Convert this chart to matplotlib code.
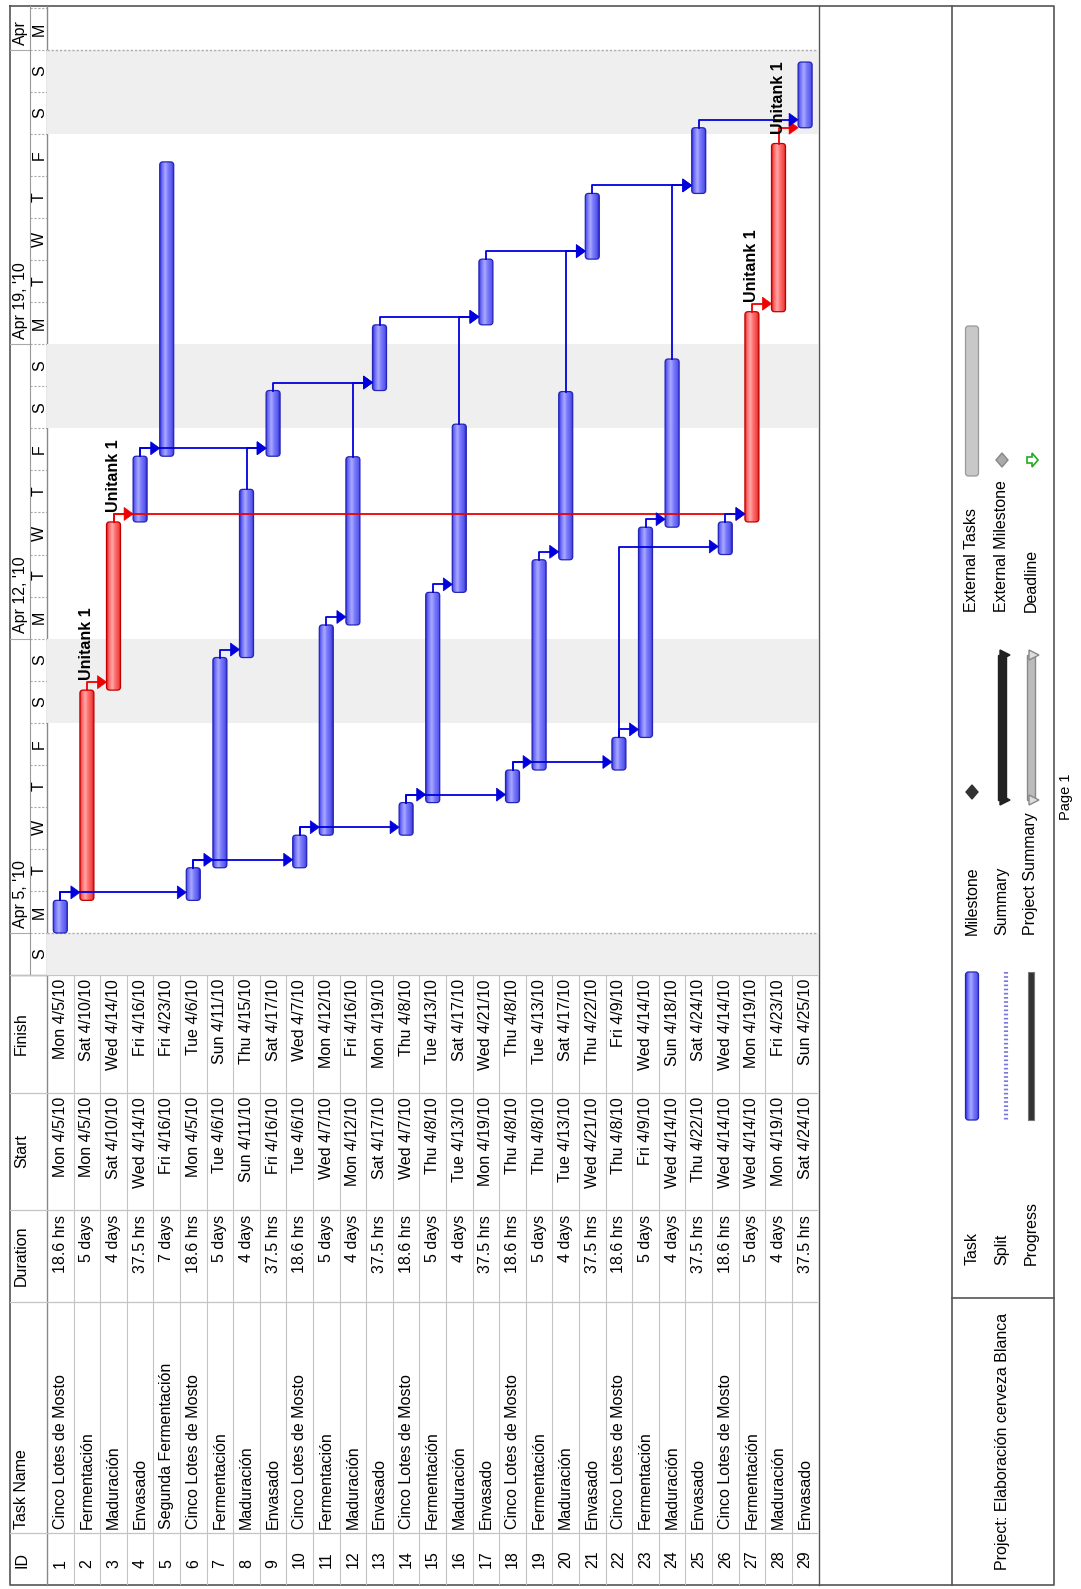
import matplotlib
matplotlib.use('Agg')
import matplotlib.pyplot as plt
from matplotlib.patches import FancyBboxPatch, Polygon, Rectangle
from matplotlib.colors import LinearSegmentedColormap
import numpy as np

plt.rcParams['font.family'] = ['Liberation Sans', 'DejaVu Sans']

# ---------------- data ----------------
task_ids = list(range(1, 30))
task_names = [
    "Cinco Lotes de Mosto", "Fermentación", "Maduración", "Envasado", "Segunda Fermentación",
    "Cinco Lotes de Mosto", "Fermentación", "Maduración", "Envasado",
    "Cinco Lotes de Mosto", "Fermentación", "Maduración", "Envasado",
    "Cinco Lotes de Mosto", "Fermentación", "Maduración", "Envasado",
    "Cinco Lotes de Mosto", "Fermentación", "Maduración", "Envasado",
    "Cinco Lotes de Mosto", "Fermentación", "Maduración", "Envasado",
    "Cinco Lotes de Mosto", "Fermentación", "Maduración", "Envasado",
]
durations = [
    "18.6 hrs", "5 days", "4 days", "37.5 hrs", "7 days",
    "18.6 hrs", "5 days", "4 days", "37.5 hrs",
    "18.6 hrs", "5 days", "4 days", "37.5 hrs",
    "18.6 hrs", "5 days", "4 days", "37.5 hrs",
    "18.6 hrs", "5 days", "4 days", "37.5 hrs",
    "18.6 hrs", "5 days", "4 days", "37.5 hrs",
    "18.6 hrs", "5 days", "4 days", "37.5 hrs",
]
starts = [
    "Mon 4/5/10", "Mon 4/5/10", "Sat 4/10/10", "Wed 4/14/10", "Fri 4/16/10",
    "Mon 4/5/10", "Tue 4/6/10", "Sun 4/11/10", "Fri 4/16/10",
    "Tue 4/6/10", "Wed 4/7/10", "Mon 4/12/10", "Sat 4/17/10",
    "Wed 4/7/10", "Thu 4/8/10", "Tue 4/13/10", "Mon 4/19/10",
    "Thu 4/8/10", "Thu 4/8/10", "Tue 4/13/10", "Wed 4/21/10",
    "Thu 4/8/10", "Fri 4/9/10", "Wed 4/14/10", "Thu 4/22/10",
    "Wed 4/14/10", "Wed 4/14/10", "Mon 4/19/10", "Sat 4/24/10",
]
finishes = [
    "Mon 4/5/10", "Sat 4/10/10", "Wed 4/14/10", "Fri 4/16/10", "Fri 4/23/10",
    "Tue 4/6/10", "Sun 4/11/10", "Thu 4/15/10", "Sat 4/17/10",
    "Wed 4/7/10", "Mon 4/12/10", "Fri 4/16/10", "Mon 4/19/10",
    "Thu 4/8/10", "Tue 4/13/10", "Sat 4/17/10", "Wed 4/21/10",
    "Thu 4/8/10", "Tue 4/13/10", "Sat 4/17/10", "Thu 4/22/10",
    "Fri 4/9/10", "Wed 4/14/10", "Sun 4/18/10", "Sat 4/24/10",
    "Wed 4/14/10", "Mon 4/19/10", "Fri 4/23/10", "Sun 4/25/10",
]
# bar start (hours after Mon Apr 5 00:00) and length in hours
start_hours = [0, 18.6, 138.6, 234.6, 272.1,
               18.6, 37.2, 157.2, 272.1,
               37.2, 55.8, 175.8, 309.6,
               55.8, 74.4, 194.4, 347.1,
               74.4, 93.0, 213.0, 384.6,
               93.0, 111.6, 231.6, 422.1,
               216.0, 234.6, 354.6, 459.6]
duration_hours = [18.6, 120, 96, 37.5, 168,
                  18.6, 120, 96, 37.5,
                  18.6, 120, 96, 37.5,
                  18.6, 120, 96, 37.5,
                  18.6, 120, 96, 37.5,
                  18.6, 120, 96, 37.5,
                  18.6, 120, 96, 37.5]
critical_tasks = [2, 3, 27, 28]
resource_label = "Unitank 1"
links = [(1, 2), (1, 6), (2, 3), (3, 4), (3, 27), (4, 5), (4, 9), (6, 7), (6, 10),
         (7, 8), (8, 9), (9, 13), (10, 11), (10, 14), (11, 12), (12, 13), (13, 17),
         (14, 15), (14, 18), (15, 16), (16, 17), (17, 21), (18, 19), (18, 22),
         (19, 20), (20, 21), (21, 25), (22, 23), (22, 26), (23, 24), (24, 25),
         (25, 29), (26, 27), (27, 28), (28, 29)]
critical_links = [(2, 3), (3, 4), (3, 27), (27, 28), (28, 29)]
week_labels = ["Apr 5, '10", "Apr 12, '10", "Apr 19, '10", "Apr"]
week_start_hours = [0, 168, 336, 504]
day_letters = ["S", "M", "T", "W", "T", "F", "S"]   # Sunday first
weekend_start_hours = [-48, 120, 288, 456]
table_headers = ["ID", "Task Name", "Duration", "Start", "Finish"]
legend_rows = [["Task", "Split", "Progress"],
               ["Milestone", "Summary", "Project Summary"],
               ["External Tasks", "External Milestone", "Deadline"]]
project_text = "Project: Elaboración cerveza Blanca"

# ---------------- layout (pixels) ----------------
W, H = 1081, 1589
FS = 11.5
PX_H = 1.752            # pixels per hour
ROW = 26.6              # pixels per task column
GX0, GY0, GY1 = 47.0, 6.0, 975.0
GX1 = GX0 + 29 * ROW
T_LO = -24.0
T_HI = T_LO + (GY1 - GY0) / PX_H
BARW = 14.0 / ROW

fig = plt.figure(figsize=(W / 100, H / 100), dpi=100)


def rect(x0, y0, x1, y1):
    return [x0 / W, 1 - y1 / H, (x1 - x0) / W, (y1 - y0) / H]


def clean(a):
    a.set_axis_off()
    a.patch.set_alpha(0)


# page axes (pixel coordinates)
axp = fig.add_axes([0, 0, 1, 1])
axp.set_xlim(0, W)
axp.set_ylim(H, 0)
clean(axp)

ax = fig.add_axes(rect(GX0, GY0, GX1, GY1))
clean(ax)
axh = fig.add_axes(rect(10, GY0, GX0, GY1))
clean(axh)
TY1 = 1585.0
axt = fig.add_axes(rect(GX0, GY1, GX1, TY1))
clean(axt)
axth = fig.add_axes(rect(10, GY1, GX0, TY1))
clean(axth)

grid_c = "#c4c4c4"
border_c = "#555555"

# ---- weekend shading & project lines ----
for ws in weekend_start_hours:
    ax.axhspan(ws, ws + 48, color="#efefef", zorder=0, lw=0)
for ph in [week_start_hours[0], week_start_hours[-1]]:
    ax.axhline(ph, color="#aaaaaa", lw=1.0, ls=(0, (1.5, 1.5)), zorder=1)

# ---- bars ----
blue_cm = LinearSegmentedColormap.from_list("b", [
    (0.0, "#3a3ad8"), (0.15, "#6e6efa"), (0.38, "#aaaaff"), (0.6, "#7878fb"),
    (0.85, "#5a5af0"), (1.0, "#3030c8")])
red_cm = LinearSegmentedColormap.from_list("r", [
    (0.0, "#e02828"), (0.15, "#ff6a6a"), (0.38, "#ffa8a8"), (0.6, "#ff6c6c"),
    (0.85, "#f04848"), (1.0, "#d01818")])
aspect = ROW / PX_H
grad = np.linspace(0, 1, 64)[None, :]

for tid, s, d in zip(task_ids, start_hours, duration_hours):
    crit = tid in critical_tasks
    x0 = tid - BARW / 2
    patch = FancyBboxPatch((x0, s), BARW, d,
                           boxstyle="round,pad=0,rounding_size=0.12",
                           mutation_aspect=aspect,
                           fc="none", ec="#c00000" if crit else "#2424b8",
                           lw=0.9, zorder=4)
    ax.add_patch(patch)
    im = ax.imshow(grad, cmap=red_cm if crit else blue_cm,
                   extent=(x0, x0 + BARW, s, s + d), aspect="auto",
                   origin="lower", zorder=3, interpolation="bilinear")
    im.set_clip_path(patch)

# ---- links ----
ARR_OFF = 8.0 / PX_H
ARR_LEN = 9.0 / ROW
ARR_HALF = 6.5 / PX_H
arrow_offsets = {(28, 29): 0.0}


def draw_link(p, s, color):
    pe = start_hours[p - 1] + duration_hours[p - 1]
    ya = start_hours[s - 1] + arrow_offsets.get((p, s), ARR_OFF)
    tip = s - BARW / 2
    ax.plot([p, p, tip - ARR_LEN * 0.8], [pe, ya, ya], color=color, lw=1.3,
            zorder=5, solid_joinstyle="round")
    ax.add_patch(Polygon([[tip, ya], [tip - ARR_LEN, ya - ARR_HALF],
                          [tip - ARR_LEN, ya + ARR_HALF]], closed=True,
                         fc=color, ec=color, lw=0.5, zorder=6))


for (p, s) in links:
    if (p, s) in critical_links:
        draw_link(p, s, "#ee0000")
for (p, s) in links:
    if (p, s) not in critical_links:
        draw_link(p, s, "#0000dd")

# ---- resource labels ----
for tid in critical_tasks:
    end = start_hours[tid - 1] + duration_hours[tid - 1]
    ax.text(tid, end + 5.5, resource_label, rotation=90, ha="center", va="bottom",
            fontsize=FS, fontweight="bold", color="black", zorder=7)

ax.set_xlim(0.5, 29.5)
ax.set_ylim(T_LO, T_HI)

# ---- timescale header ----
axh.set_xlim(10, GX0)
axh.set_ylim(T_LO, T_HI)
for k in range(int((T_HI - T_LO) // 24) + 1):
    d0 = T_LO + 24 * k
    mid = d0 + 12
    if mid < T_HI:
        axh.text(39.5, mid, day_letters[k % 7], rotation=90, ha="center", va="center",
                 fontsize=FS)
    if k > 0:
        axh.plot([30, GX0], [d0, d0], color="#aaaaaa", lw=0.8, ls=(0, (2, 1.5)))
for lab, wh in zip(week_labels, week_start_hours):
    axh.text(20.5, wh + 3.0, lab, rotation=90, ha="center", va="bottom", fontsize=FS)
    axh.plot([10, 30], [wh, wh], color="#aaaaaa", lw=0.8)
axh.axvline(30, color="#999999", lw=0.8)

# ---- table ----
axt.set_xlim(0.5, 29.5)
axt.set_ylim(TY1, GY1)
axth.set_xlim(10, GX0)
axth.set_ylim(TY1, GY1)
col_bounds = [GY1, 1093, 1210, 1302, 1533, TY1]
for yb in col_bounds[1:-1]:
    axt.axhline(yb, color=grid_c, lw=0.9)
    axth.axhline(yb, color=grid_c, lw=0.9)
axt.axhline(GY1, color=grid_c, lw=0.9)
axth.axhline(GY1, color=grid_c, lw=0.9)
for k in range(1, 29):
    axt.axvline(k + 0.5, color=grid_c, lw=0.8)

for tid, nm, du, st, fi in zip(task_ids, task_names, durations, starts, finishes):
    axt.text(tid, 1568, str(tid), rotation=90, ha="center", va="bottom", fontsize=FS)
    axt.text(tid, 1529, nm, rotation=90, ha="center", va="bottom", fontsize=FS)
    axt.text(tid, 1215, du, rotation=90, ha="center", va="top", fontsize=FS)
    axt.text(tid, 1097, st, rotation=90, ha="center", va="top", fontsize=FS)
    axt.text(tid, 979, fi, rotation=90, ha="center", va="top", fontsize=FS)

axth.text(21.5, 1568, table_headers[0], rotation=90, ha="center", va="bottom", fontsize=FS)
axth.text(21.5, 1529, table_headers[1], rotation=90, ha="center", va="bottom", fontsize=FS)
axth.text(21.5, (1210 + 1302) / 2, table_headers[2], rotation=90, ha="center", va="center", fontsize=FS)
axth.text(21.5, (1093 + 1210) / 2, table_headers[3], rotation=90, ha="center", va="center", fontsize=FS)
axth.text(21.5, (GY1 + 1093) / 2, table_headers[4], rotation=90, ha="center", va="center", fontsize=FS)

# ---- page frame ----
axp.plot([10, 1054, 1054, 10, 10], [GY0, GY0, TY1, TY1, GY0], color=border_c, lw=1.2)
axp.plot([GX0, GX0], [GY0, TY1], color="#888888", lw=1.0)
axp.plot([819, 819], [GY0, TY1], color=border_c, lw=1.0)
axp.plot([952, 952], [GY0, TY1], color=border_c, lw=1.2)
axp.plot([10, GX0], [GY1, GY1], color="#888888", lw=1.0)

# ---- legend ----
axp.plot([952, 1054], [1298, 1298], color=border_c, lw=1.2)
axp.text(1002, 1441, project_text, rotation=90, ha="center", va="center", fontsize=FS)
lx = [972, 1002, 1031]
group_label_y = [1265, 935, 612]
group_sample = [(972, 1120), (655, 800), (326, 476)]
for g, labels in enumerate(legend_rows):
    for r, lab in enumerate(labels):
        axp.text(lx[r], group_label_y[g], lab, rotation=90, ha="center", va="bottom",
                 fontsize=FS)
# group 1 samples
y0, y1 = group_sample[0]
tp = FancyBboxPatch((lx[0] - 6.5, y0), 13, y1 - y0, boxstyle="round,pad=0,rounding_size=3",
                    fc="none", ec="#2424b8", lw=0.9, zorder=4)
axp.add_patch(tp)
im = axp.imshow(grad, cmap=blue_cm, extent=(lx[0] - 6.5, lx[0] + 6.5, y1, y0),
                aspect="auto", zorder=3, interpolation="bilinear")
im.set_clip_path(tp)
axp.plot([lx[1] + 4, lx[1] + 4], [y0, y1], color="#7777dd", lw=3, ls=(0, (0.4, 0.6)))
axp.add_patch(Rectangle((lx[2] - 3, y0), 6, y1 - y0, fc="#333333", ec="#777777", lw=0.8))
# group 2 samples
y0, y1 = group_sample[1]
ym = y1 - 8
axp.add_patch(Polygon([[lx[0], ym - 7], [lx[0] + 6, ym], [lx[0], ym + 7], [lx[0] - 6, ym]],
                      fc="#333333", ec="#333333"))
axp.add_patch(Rectangle((lx[1] - 4, y0), 8, y1 - y0, fc="#222222", ec="#222222"))
for yy in (y0, y1):
    axp.add_patch(Polygon([[lx[1] - 2, yy - 5], [lx[1] + 8, yy], [lx[1] - 2, yy + 5]],
                          fc="#222222", ec="#222222"))
axp.add_patch(Rectangle((lx[2] - 4, y0), 8, y1 - y0, fc="#bbbbbb", ec="#888888"))
for yy in (y0, y1):
    axp.add_patch(Polygon([[lx[2] - 2, yy - 5], [lx[2] + 8, yy], [lx[2] - 2, yy + 5]],
                          fc="#dddddd", ec="#888888"))
# group 3 samples
y0, y1 = group_sample[2]
axp.add_patch(FancyBboxPatch((lx[0] - 6.5, y0), 13, y1 - y0,
                             boxstyle="round,pad=0,rounding_size=3",
                             fc="#c8c8c8", ec="#999999", lw=0.9))
ym = y1 - 16
axp.add_patch(Polygon([[lx[1], ym - 7], [lx[1] + 6, ym], [lx[1], ym + 7], [lx[1] - 6, ym]],
                      fc="#aaaaaa", ec="#888888"))
axp.add_patch(Polygon([[lx[2] - 4, ym - 3], [lx[2] + 1, ym - 3], [lx[2] + 1, ym - 7],
                       [lx[2] + 7, ym], [lx[2] + 1, ym + 7], [lx[2] + 1, ym + 3],
                       [lx[2] - 4, ym + 3]], fc="white", ec="#22aa22", lw=1.2))

axp.text(1066, 797, "Page 1", rotation=90, ha="center", va="center", fontsize=10.5)
axp.set_xlim(0, W)
axp.set_ylim(H, 0)

fig.savefig("out.png", dpi=100)
